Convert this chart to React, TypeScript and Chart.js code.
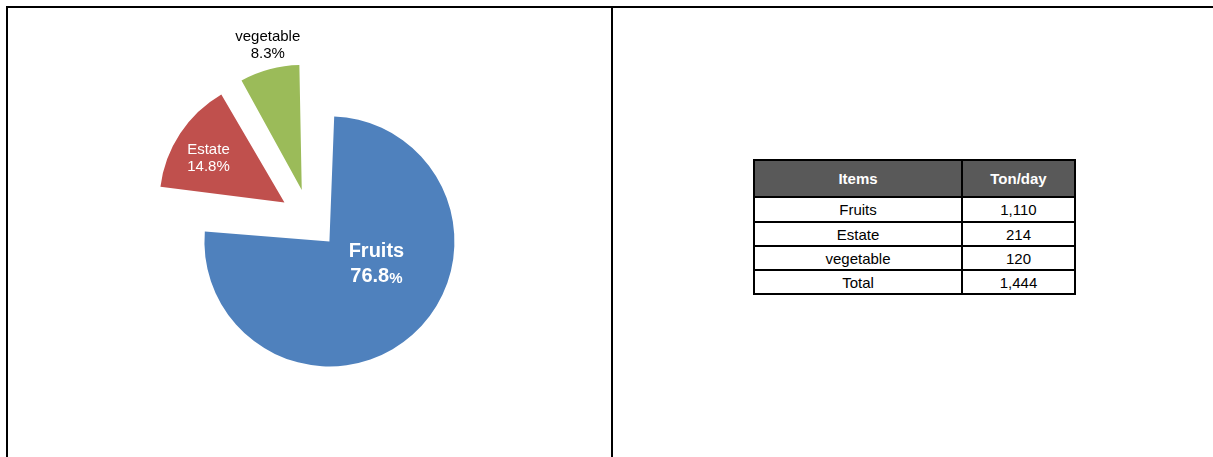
import React, { useEffect, useRef } from "react";
import { Chart, registerables } from "chart.js";

Chart.register(...registerables);

const categories = ["Fruits", "Estate", "vegetable"];
const sharePercent = [76.8, 14.8, 8.3];
const tonsPerDay = [1110, 214, 120];
const totalTons = 1444;
const tableHeaders = ["Items", "Ton/day"];

const sliceColors = ["#4F81BD", "#C0504D", "#9BBB59"];
const FONT = '"Liberation Sans", Arial, sans-serif';
const PIE_RADIUS = 125;
const EXPLODE = 30; // px each slice is pulled out

// label placement relative to each slice's (exploded) apex
const labelStyles = [
  { dx: 47, dy: 23, color: "#ffffff", size: 20, pctSize: 15, bold: true, lh: 25 },
  { dx: -76, dy: -44, color: "#ffffff", size: 15, pctSize: 15, bold: false, lh: 17 },
  { dx: -34, dy: -145, color: "#000000", size: 15, pctSize: 15, bold: false, lh: 17 },
];

const fmt = (n: number) => n.toLocaleString("en-US");

// Chart.js enlarges exploded arcs by offset/4*(1-sin(circ)); keep every slice at the same radius
const radiusFixPlugin = {
  id: "radiusFix",
  afterDatasetUpdate(chart: any, args: any) {
    args.meta.data.forEach((arc: any) => {
      const circ = arc.endAngle - arc.startAngle;
      const fix = 1 - Math.sin(Math.min(Math.PI, circ));
      arc.outerRadius = PIE_RADIUS - EXPLODE * fix;
    });
  },
};

const labelPlugin = {
  id: "sliceLabels",
  afterDatasetsDraw(chart: any) {
    const ctx = chart.ctx;
    const meta = chart.getDatasetMeta(0);
    meta.data.forEach((arc: any, i: number) => {
      const st = labelStyles[i];
      const mid = (arc.startAngle + arc.endAngle) / 2;
      const off = (arc.options.offset || 0) / 4;
      const ax = arc.x + Math.cos(mid) * off;
      const ay = arc.y + Math.sin(mid) * off;
      const cx = ax + st.dx;
      const cy = ay + st.dy;
      ctx.save();
      ctx.fillStyle = st.color;
      ctx.textBaseline = "middle";
      ctx.textAlign = "center";
      const w = st.bold ? "bold " : "";
      ctx.font = `${w}${st.size}px ${FONT}`;
      ctx.fillText(categories[i], cx, cy - st.lh / 2);
      const num = sharePercent[i].toFixed(1);
      ctx.font = `${w}${st.size}px ${FONT}`;
      const nw = ctx.measureText(num).width;
      ctx.font = `${w}${st.pctSize}px ${FONT}`;
      const pw = ctx.measureText("%").width;
      const startX = cx - (nw + pw) / 2;
      ctx.textAlign = "left";
      ctx.font = `${w}${st.size}px ${FONT}`;
      ctx.fillText(num, startX, cy + st.lh / 2);
      ctx.font = `${w}${st.pctSize}px ${FONT}`;
      ctx.fillText("%", startX + nw, cy + st.lh / 2 + (st.size - st.pctSize) * 0.3);
      ctx.restore();
    });
  },
};

function PieChart() {
  const ref = useRef<HTMLCanvasElement>(null);
  useEffect(() => {
    if (!ref.current) return;
    const chart = new Chart(ref.current, {
      type: "pie",
      data: {
        labels: categories,
        datasets: [
          {
            data: sharePercent,
            backgroundColor: sliceColors,
            borderWidth: 0,
            offset: EXPLODE * 4,
          },
        ],
      },
      options: {
        responsive: false,
        animation: false,
        radius: PIE_RADIUS,
        layout: { padding: { bottom: 27 } },
        plugins: { legend: { display: false }, tooltip: { enabled: false } },
      },
      plugins: [radiusFixPlugin, labelPlugin],
    });
    return () => chart.destroy();
  }, []);
  return (
    <canvas
      ref={ref}
      width={603}
      height={449}
      style={{ position: "absolute", left: 8, top: 8, width: 603, height: 449 }}
    />
  );
}

function DataTable() {
  const rows = categories.map((c, i) => [c, fmt(tonsPerDay[i])]);
  rows.push(["Total", fmt(totalTons)]);
  const rowHeights = [35, 23, 22, 22, 22];
  const cell = (text: string, header: boolean, key: string) => (
    <div
      key={key}
      style={{
        background: header ? "#595959" : "#ffffff",
        color: header ? "#ffffff" : "#000000",
        fontWeight: header ? "bold" : "normal",
        fontSize: 15,
        fontFamily: FONT,
        display: "flex",
        alignItems: "center",
        justifyContent: "center",
      }}
    >
      {text}
    </div>
  );
  return (
    <div
      style={{
        position: "absolute",
        left: 753,
        top: 159,
        display: "grid",
        gridTemplateColumns: "206px 111px",
        gridTemplateRows: rowHeights.map((h) => h + "px").join(" "),
        gap: 2,
        padding: 2,
        background: "#000000",
      }}
    >
      {tableHeaders.map((h, i) => cell(h, true, "h" + i))}
      {rows.map((r, ri) => r.map((t, ci) => cell(t, false, `r${ri}c${ci}`)))}
    </div>
  );
}

export default function App() {
  return (
    <div
      style={{
        position: "fixed",
        left: 0,
        top: 0,
        width: 1213,
        height: 457,
        background: "#ffffff",
        overflow: "hidden",
      }}
    >
      <div style={{ position: "absolute", left: 6, top: 6, width: 1207, height: 2, background: "#000" }} />
      <div style={{ position: "absolute", left: 6, top: 6, width: 2, height: 451, background: "#000" }} />
      <div style={{ position: "absolute", left: 611, top: 6, width: 2, height: 451, background: "#000" }} />
      <PieChart />
      <DataTable />
    </div>
  );
}
